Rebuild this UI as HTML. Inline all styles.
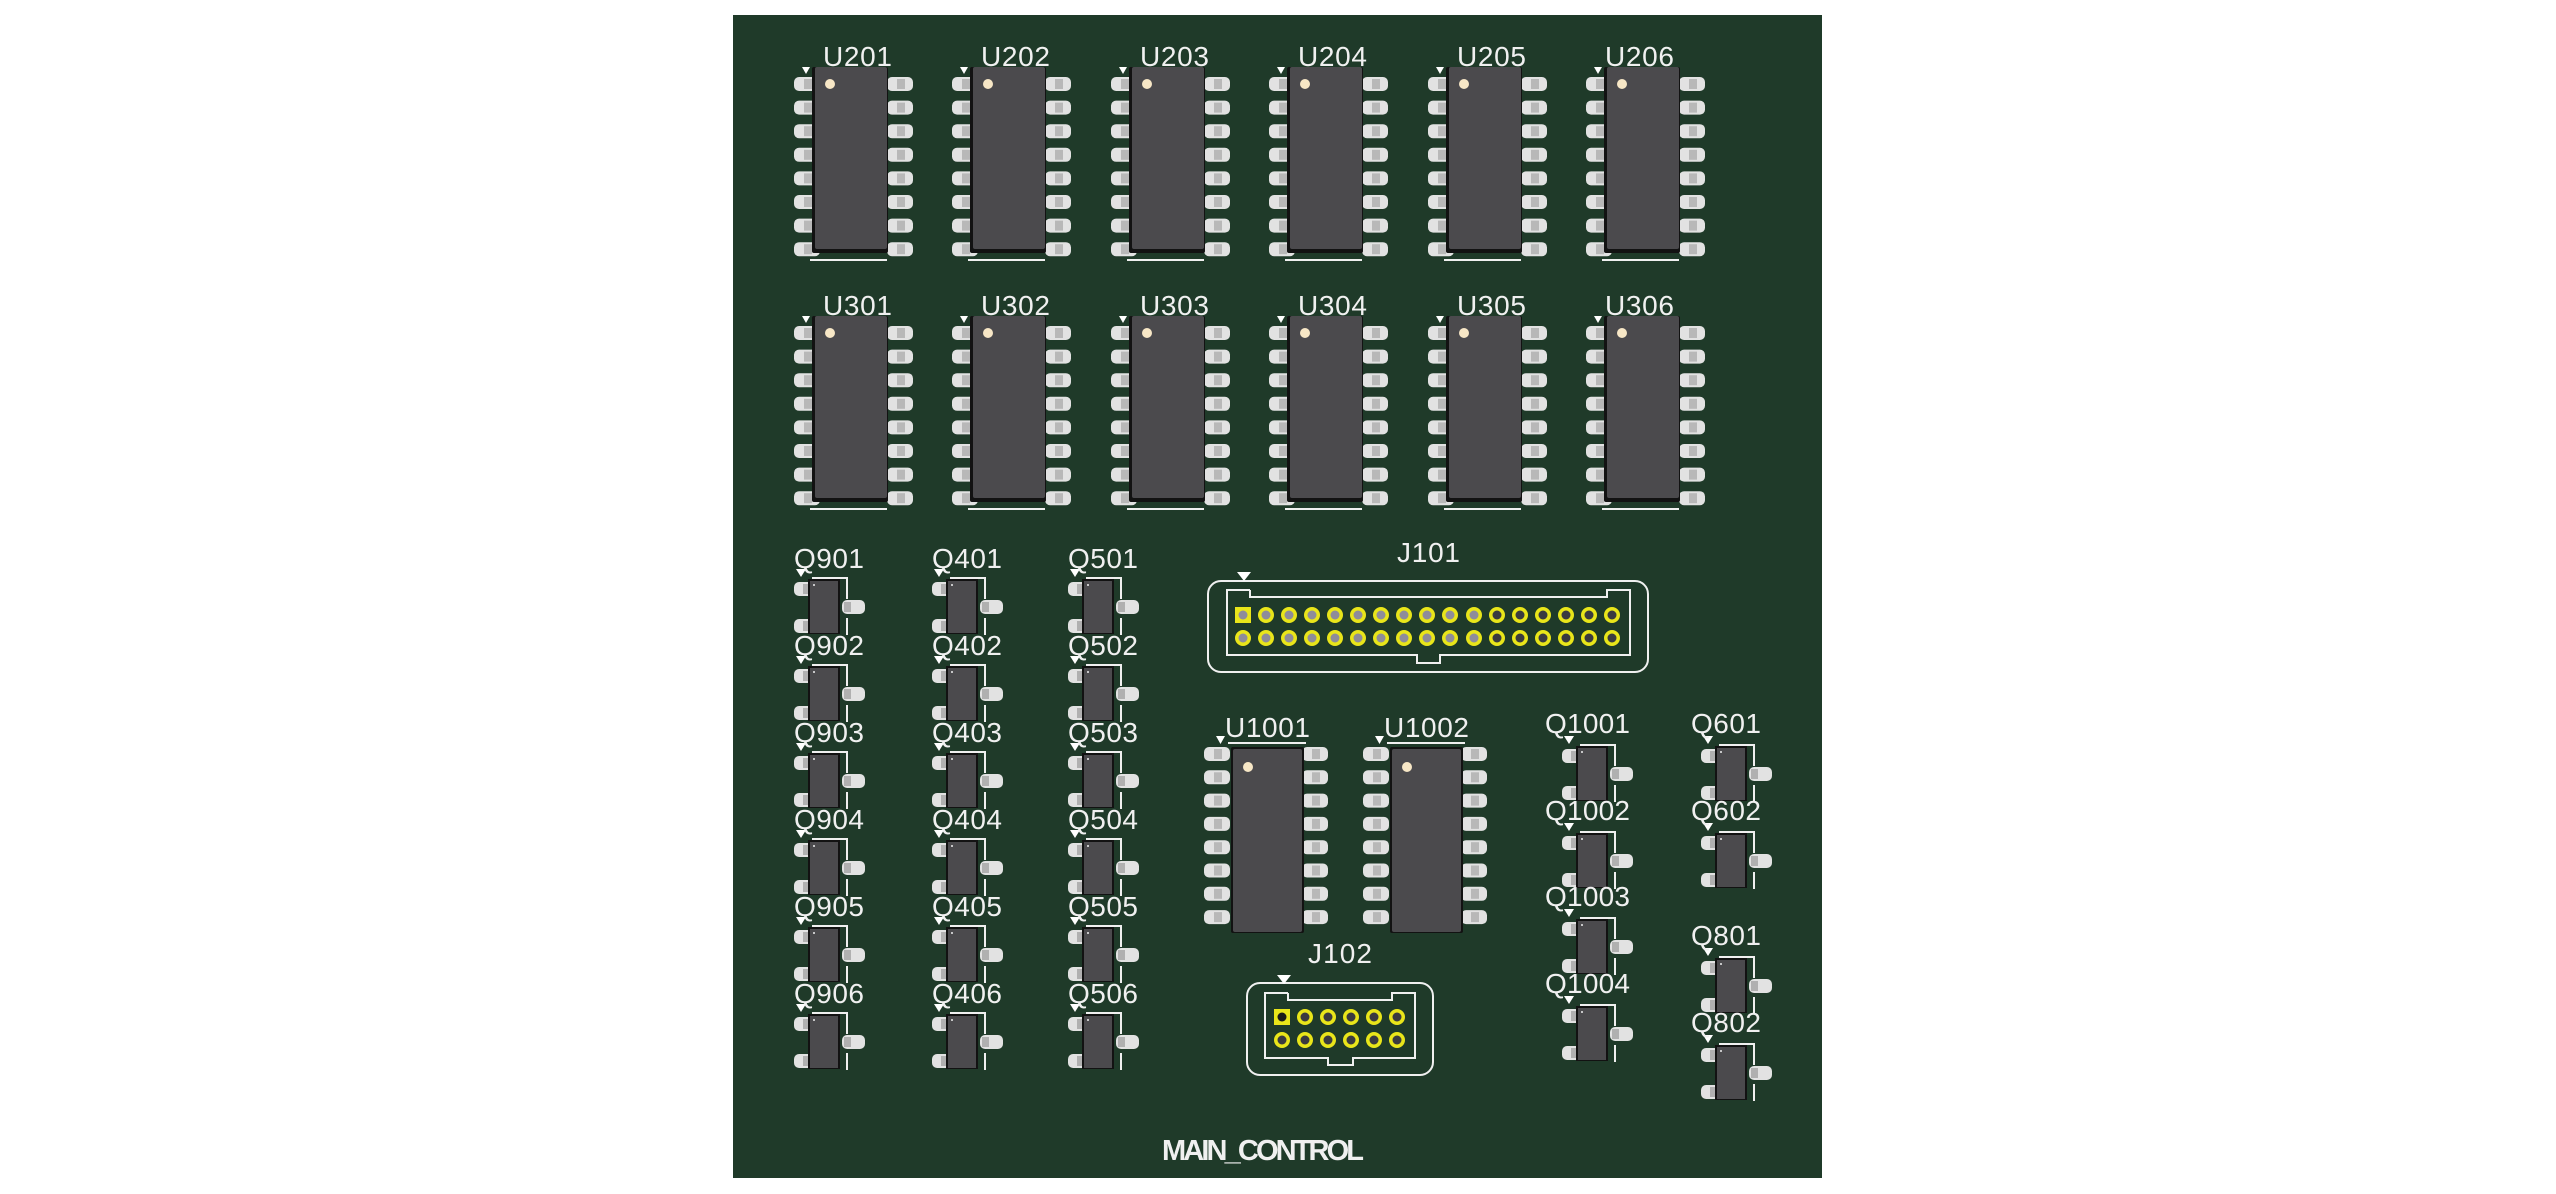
<!DOCTYPE html>
<html><head><meta charset="utf-8"><style>
html,body{margin:0;padding:0;background:#fff;}
svg{display:block;}
text{font-family:"Liberation Sans",sans-serif;fill:#f0f0f0;font-size:28px;}
</style></head><body>
<svg width="2556" height="1194" viewBox="0 0 2556 1194" xmlns="http://www.w3.org/2000/svg">
<defs>
<g id="lp"><rect x="0" y="-7" width="26" height="14" rx="5" fill="#e2e2e2"/><rect x="10" y="-5" width="8" height="10" fill="#b8b8b8"/></g>
<g id="soic">
<use href="#lp" x="-21" y="17"/><use href="#lp" x="-21" y="40.6"/><use href="#lp" x="-21" y="64.2"/><use href="#lp" x="-21" y="87.8"/><use href="#lp" x="-21" y="111.4"/><use href="#lp" x="-21" y="135"/><use href="#lp" x="-21" y="158.6"/><use href="#lp" x="-21" y="182.2"/>
<use href="#lp" x="72" y="17"/><use href="#lp" x="72" y="40.6"/><use href="#lp" x="72" y="64.2"/><use href="#lp" x="72" y="87.8"/><use href="#lp" x="72" y="111.4"/><use href="#lp" x="72" y="135"/><use href="#lp" x="72" y="158.6"/><use href="#lp" x="72" y="182.2"/>
<rect x="-3" y="0" width="76" height="186" rx="2" fill="#121212"/>
<rect x="0" y="0" width="72" height="182" rx="2" fill="#4b4a4d"/>
<circle cx="15" cy="17" r="5" fill="#f7e7c6"/>
<polygon points="-13,0 -5,0 -9,7" fill="#fff"/>
<line x1="-5" y1="193" x2="72" y2="193" stroke="#f0f0f0" stroke-width="2"/>
</g>
<g id="soic2">
<use href="#lp" x="-29" y="5"/><use href="#lp" x="-29" y="28.3"/><use href="#lp" x="-29" y="51.6"/><use href="#lp" x="-29" y="74.9"/><use href="#lp" x="-29" y="98.2"/><use href="#lp" x="-29" y="121.5"/><use href="#lp" x="-29" y="144.8"/><use href="#lp" x="-29" y="168.1"/>
<use href="#lp" x="69" y="5"/><use href="#lp" x="69" y="28.3"/><use href="#lp" x="69" y="51.6"/><use href="#lp" x="69" y="74.9"/><use href="#lp" x="69" y="98.2"/><use href="#lp" x="69" y="121.5"/><use href="#lp" x="69" y="144.8"/><use href="#lp" x="69" y="168.1"/>
<rect x="-2" y="-2" width="73" height="186" rx="2" fill="#121212"/>
<rect x="0" y="0" width="69" height="183" rx="2" fill="#4b4a4d"/>
<circle cx="15" cy="18" r="5" fill="#f7e7c6"/>
<polygon points="-17,-13 -8,-13 -12.5,-5" fill="#fff"/>
<line x1="-5" y1="-6" x2="73" y2="-6" stroke="#f0f0f0" stroke-width="2"/>
</g>
<g id="sot">
<rect x="-16" y="1" width="22" height="14" rx="5" fill="#e2e2e2"/><rect x="-7" y="3" width="6" height="10" fill="#b0b0b0"/>
<rect x="-16" y="38" width="22" height="14" rx="5" fill="#e2e2e2"/><rect x="-7" y="40" width="6" height="10" fill="#b0b0b0"/>
<rect x="32" y="19" width="23" height="14" rx="5" fill="#e2e2e2"/><rect x="34" y="21" width="7" height="10" fill="#b0b0b0"/>
<rect x="-2" y="-2" width="32" height="55" fill="#121212"/>
<rect x="0" y="0" width="28" height="52" fill="#4b4a4d"/>
<circle cx="4" cy="4" r="1" fill="#eee"/>
<polyline points="2,-3 37,-3 37,18" fill="none" stroke="#f0f0f0" stroke-width="2"/>
<line x1="37" y1="37" x2="37" y2="54" stroke="#f0f0f0" stroke-width="2"/>
<polygon points="-14,-12 -4,-12 -9,-4" fill="#fff"/>
</g>
<g id="pin"><circle r="8" fill="#e9e51a"/><circle r="4.5" fill="#8e8c9a"/></g>
<g id="pin2"><circle r="8" fill="#e9e51a"/><circle r="4.5" fill="#3a3a40"/></g>
</defs>

<rect x="733" y="15" width="1089" height="1163" fill="#1f3a29"/>

<use href="#soic" x="815" y="67"/><use href="#soic" x="973" y="67"/><use href="#soic" x="1132" y="67"/><use href="#soic" x="1290" y="67"/><use href="#soic" x="1449" y="67"/><use href="#soic" x="1607" y="67"/>
<text x="823" y="66" textLength="69">U201</text><text x="981" y="66" textLength="69">U202</text><text x="1140" y="66" textLength="69">U203</text><text x="1298" y="66" textLength="69">U204</text><text x="1457" y="66" textLength="69">U205</text><text x="1605" y="66" textLength="69">U206</text>
<use href="#soic" x="815" y="316"/><use href="#soic" x="973" y="316"/><use href="#soic" x="1132" y="316"/><use href="#soic" x="1290" y="316"/><use href="#soic" x="1449" y="316"/><use href="#soic" x="1607" y="316"/>
<text x="823" y="315" textLength="69">U301</text><text x="981" y="315" textLength="69">U302</text><text x="1140" y="315" textLength="69">U303</text><text x="1298" y="315" textLength="69">U304</text><text x="1457" y="315" textLength="69">U305</text><text x="1605" y="315" textLength="69">U306</text>

<g>
<use href="#sot" x="810" y="581"/><use href="#sot" x="810" y="668"/><use href="#sot" x="810" y="755"/><use href="#sot" x="810" y="842"/><use href="#sot" x="810" y="929"/><use href="#sot" x="810" y="1016"/>
<use href="#sot" x="948" y="581"/><use href="#sot" x="948" y="668"/><use href="#sot" x="948" y="755"/><use href="#sot" x="948" y="842"/><use href="#sot" x="948" y="929"/><use href="#sot" x="948" y="1016"/>
<use href="#sot" x="1084" y="581"/><use href="#sot" x="1084" y="668"/><use href="#sot" x="1084" y="755"/><use href="#sot" x="1084" y="842"/><use href="#sot" x="1084" y="929"/><use href="#sot" x="1084" y="1016"/>
</g>
<text x="794" y="568" textLength="70">Q901</text><text x="794" y="655" textLength="70">Q902</text><text x="794" y="742" textLength="70">Q903</text><text x="794" y="829" textLength="70">Q904</text><text x="794" y="916" textLength="70">Q905</text><text x="794" y="1003" textLength="70">Q906</text>
<text x="932" y="568" textLength="70">Q401</text><text x="932" y="655" textLength="70">Q402</text><text x="932" y="742" textLength="70">Q403</text><text x="932" y="829" textLength="70">Q404</text><text x="932" y="916" textLength="70">Q405</text><text x="932" y="1003" textLength="70">Q406</text>
<text x="1068" y="568" textLength="70">Q501</text><text x="1068" y="655" textLength="70">Q502</text><text x="1068" y="742" textLength="70">Q503</text><text x="1068" y="829" textLength="70">Q504</text><text x="1068" y="916" textLength="70">Q505</text><text x="1068" y="1003" textLength="70">Q506</text>

<text x="1397" y="562" textLength="63">J101</text>
<rect x="1208" y="581" width="440" height="91" rx="13" fill="none" stroke="#f0f0f0" stroke-width="2"/>
<polyline points="1250,590 1227,590 1227,655 1417,655 1417,663 1440,663 1440,655 1630,655 1630,590 1607,590 1607,597 1250,597 1250,590" fill="none" stroke="#f0f0f0" stroke-width="2"/>
<polygon points="1237,572 1251,572 1244,581" fill="#fff"/>
<rect x="1235" y="607" width="16" height="16" fill="#e9e51a"/><circle cx="1243" cy="615" r="4.5" fill="#8e8c9a"/>
<g>
<use href="#pin" x="1266" y="615"/><use href="#pin" x="1289" y="615"/><use href="#pin" x="1312" y="615"/><use href="#pin" x="1335" y="615"/><use href="#pin" x="1358" y="615"/><use href="#pin" x="1381" y="615"/><use href="#pin" x="1404" y="615"/><use href="#pin" x="1427" y="615"/><use href="#pin" x="1450" y="615"/><use href="#pin" x="1474" y="615"/><use href="#pin2" x="1497" y="615"/><use href="#pin2" x="1520" y="615"/><use href="#pin2" x="1543" y="615"/><use href="#pin2" x="1566" y="615"/><use href="#pin2" x="1589" y="615"/><use href="#pin2" x="1612" y="615"/>
<use href="#pin" x="1243" y="638"/><use href="#pin" x="1266" y="638"/><use href="#pin" x="1289" y="638"/><use href="#pin" x="1312" y="638"/><use href="#pin" x="1335" y="638"/><use href="#pin" x="1358" y="638"/><use href="#pin" x="1381" y="638"/><use href="#pin" x="1404" y="638"/><use href="#pin" x="1427" y="638"/><use href="#pin" x="1450" y="638"/><use href="#pin" x="1474" y="638"/><use href="#pin2" x="1497" y="638"/><use href="#pin2" x="1520" y="638"/><use href="#pin2" x="1543" y="638"/><use href="#pin2" x="1566" y="638"/><use href="#pin2" x="1589" y="638"/><use href="#pin2" x="1612" y="638"/>
</g>

<use href="#soic2" x="1233" y="749"/><use href="#soic2" x="1392" y="749"/>
<text x="1225" y="737" textLength="85">U1001</text><text x="1384" y="737" textLength="85">U1002</text>

<text x="1308" y="963" textLength="64">J102</text>
<rect x="1247" y="983" width="186" height="92" rx="13" fill="none" stroke="#f0f0f0" stroke-width="2"/>
<polyline points="1288,993 1265,993 1265,1058 1328,1058 1328,1065 1353,1065 1353,1058 1415,1058 1415,993 1392,993 1392,1000 1288,1000 1288,993" fill="none" stroke="#f0f0f0" stroke-width="2"/>
<polygon points="1277,975 1291,975 1284,984" fill="#fff"/>
<rect x="1274" y="1009" width="16" height="16" fill="#e9e51a"/><circle cx="1282" cy="1017" r="4.5" fill="#1a1a1a"/>
<use href="#pin2" x="1305" y="1017"/><use href="#pin2" x="1328" y="1017"/><use href="#pin2" x="1351" y="1017"/><use href="#pin2" x="1374" y="1017"/><use href="#pin2" x="1397" y="1017"/>
<use href="#pin2" x="1282" y="1040"/><use href="#pin2" x="1305" y="1040"/><use href="#pin2" x="1328" y="1040"/><use href="#pin2" x="1351" y="1040"/><use href="#pin2" x="1374" y="1040"/><use href="#pin2" x="1397" y="1040"/>

<use href="#sot" x="1578" y="748"/><use href="#sot" x="1578" y="835"/><use href="#sot" x="1578" y="921"/><use href="#sot" x="1578" y="1008"/>
<use href="#sot" x="1717" y="748"/><use href="#sot" x="1717" y="835"/><use href="#sot" x="1717" y="960"/><use href="#sot" x="1717" y="1047"/>
<text x="1545" y="733" textLength="85">Q1001</text><text x="1545" y="820" textLength="85">Q1002</text><text x="1545" y="906" textLength="85">Q1003</text><text x="1545" y="993" textLength="85">Q1004</text>
<text x="1691" y="733" textLength="70">Q601</text><text x="1691" y="820" textLength="70">Q602</text><text x="1691" y="945" textLength="70">Q801</text><text x="1691" y="1032" textLength="70">Q802</text>

<text x="1162" y="1160" textLength="202" style="font-weight:bold;font-size:29px">MAIN_CONTROL</text>
</svg>
</body></html>
